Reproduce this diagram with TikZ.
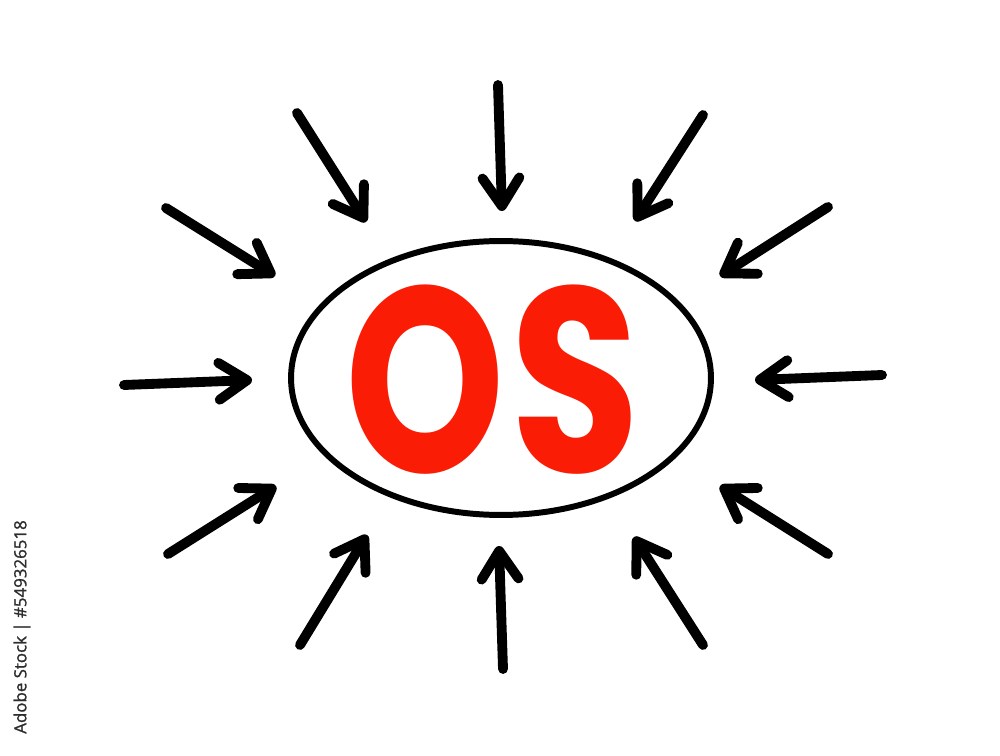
\documentclass[tikz,border=0pt]{standalone}
\usepackage{fontspec}
\usetikzlibrary{arrows.meta,shapes.geometric}
\newfontfamily\osfont{Poppins}
\newfontfamily\stockfont[FakeBold=1.2]{Open Sans}
\definecolor{osred}{RGB}{250,28,4}
\definecolor{stockgray}{RGB}{45,45,45}
\tikzset{
  arr/.style={line width=5.6pt, line cap=round, -{Straight Barb[length=16pt,width=21pt,round]}},
  ring/.style={draw, ellipse, line width=3.4pt, minimum width=8.4cm, minimum height=5.48cm},
}
\begin{document}
\begin{tikzpicture}[x=0.02cm,y=-0.02cm]
\useasboundingbox (0,0) rectangle (1000,756);
\fill[white] (0,0) rectangle (1000,756);
\node[ring] (os) at (501,378) {};
\node[text=osred, inner sep=0pt] (label) at (493,380) {\osfont\bfseries\fontsize{150}{150}\selectfont\scalebox{0.77}[1]{O}\kern3pt\scalebox{0.8}[1]{S}};
\node[text=stockgray, rotate=90, inner sep=0pt] (stock) at (22,627) {\stockfont\fontsize{9.6}{10}\selectfont Adobe Stock | \#549326518};
% arrows: start / tip
\coordinate (s1) at (297,113);  \coordinate (t1) at (366,222);
\coordinate (s2) at (498,85);   \coordinate (t2) at (502,211);
\coordinate (s3) at (703,115);  \coordinate (t3) at (635,221);
\coordinate (s4) at (166,208);  \coordinate (t4) at (275,276);
\coordinate (s5) at (828,207);  \coordinate (t5) at (720,276);
\coordinate (s6) at (124,385);  \coordinate (t6) at (252,380);
\coordinate (s7) at (882,375);  \coordinate (t7) at (755,380);
\coordinate (s8) at (168,554);  \coordinate (t8) at (276,486);
\coordinate (s9) at (828,554);  \coordinate (t9) at (720,486);
\coordinate (s10) at (300,645); \coordinate (t10) at (367,535);
\coordinate (s11) at (503,669); \coordinate (t11) at (499,546);
\coordinate (s12) at (703,645); \coordinate (t12) at (634,537);
\foreach \i in {1,...,12} \draw[arr] (s\i) -- (t\i);
\end{tikzpicture}
\end{document}
